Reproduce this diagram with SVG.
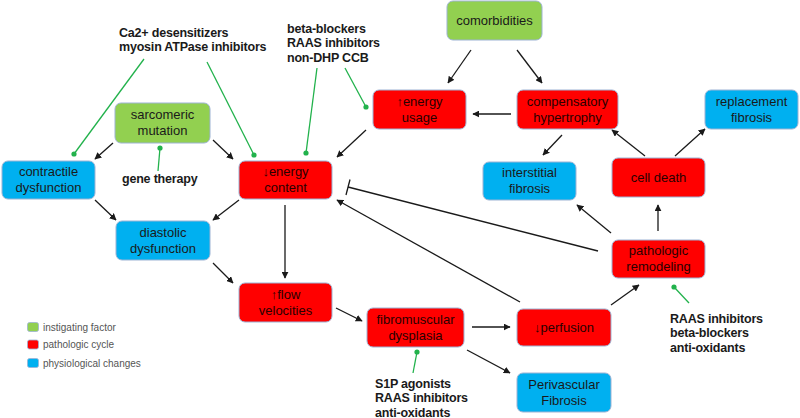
<svg xmlns="http://www.w3.org/2000/svg" width="800" height="418" viewBox="0 0 800 418">
<defs>
<marker id="ah" viewBox="0 0 10 10" refX="9" refY="5" markerWidth="7" markerHeight="7" orient="auto" markerUnits="userSpaceOnUse"><path d="M0,0 L10,5 L0,10 z" fill="#1a1a1a"/></marker>
<style>
.n rect{stroke:#9db3d4;stroke-width:1}
.g rect{fill:#92d050}
.r rect{fill:#ff0000}
.b rect{fill:#00b0f0}
.n text{font-family:"Liberation Sans",Arial,sans-serif;font-size:13px;text-anchor:middle;fill:#1a1a1a}
.r text{fill:#2a0000}
.lbl{font-family:"Liberation Sans",Arial,sans-serif;font-size:12.5px;font-weight:bold;fill:#1a1a1a;letter-spacing:-0.2px}
.leg{font-family:"Liberation Sans",Arial,sans-serif;font-size:10px;fill:#555}
.a{stroke:#1a1a1a;stroke-width:1.3;fill:none;marker-end:url(#ah)}
.i{stroke:#1a1a1a;stroke-width:1.3;fill:none}
.t{stroke:#22b24c;stroke-width:1.3;fill:none}
.d{fill:#22b24c}
</style>
</defs>
<rect width="800" height="418" fill="#fff"/>

<g id="connectors">
<line class="a" x1="471" y1="50" x2="448" y2="83"/>
<line class="a" x1="517" y1="50" x2="542" y2="83"/>
<line class="a" x1="511" y1="114" x2="473" y2="114"/>
<line class="a" x1="366" y1="130" x2="337" y2="157"/>
<line class="a" x1="562" y1="135" x2="543" y2="155"/>
<line class="a" x1="645" y1="156" x2="612" y2="130"/>
<line class="a" x1="675" y1="156" x2="705" y2="129"/>
<line class="a" x1="113" y1="143" x2="95" y2="159"/>
<line class="a" x1="213" y1="140" x2="233" y2="159"/>
<line class="a" x1="95" y1="200" x2="116" y2="220"/>
<line class="a" x1="239" y1="200" x2="213" y2="220"/>
<line class="a" x1="285" y1="205" x2="285" y2="278"/>
<line class="a" x1="213" y1="263" x2="233" y2="283"/>
<line class="a" x1="336" y1="308" x2="362" y2="321"/>
<line class="a" x1="472" y1="327" x2="510" y2="327"/>
<line class="a" x1="467" y1="350" x2="510" y2="373"/>
<line class="a" x1="611" y1="305" x2="639" y2="285"/>
<line class="a" x1="520" y1="302" x2="337" y2="200"/>
<line class="a" x1="611" y1="233" x2="577" y2="205"/>
<line class="a" x1="658" y1="231" x2="658" y2="205"/>
<line class="i" x1="598" y1="251" x2="348" y2="187"/>
<line class="i" x1="350" y1="179.5" x2="346" y2="195"/>
<!-- green therapy lines -->
<line class="t" x1="144" y1="59" x2="74" y2="154"/><circle class="d" cx="74" cy="154" r="2.6"/>
<line class="t" x1="207" y1="62" x2="254" y2="155"/><circle class="d" cx="254" cy="155" r="2.6"/>
<line class="t" x1="158" y1="171" x2="160" y2="148"/><circle class="d" cx="160" cy="148" r="2.6"/>
<line class="t" x1="317" y1="68" x2="306" y2="153"/><circle class="d" cx="306" cy="153" r="2.6"/>
<line class="t" x1="345" y1="68" x2="366" y2="107"/><circle class="d" cx="366" cy="107" r="2.6"/>
<line class="t" x1="413" y1="373" x2="417" y2="352"/><circle class="d" cx="417" cy="352" r="2.6"/>
<line class="t" x1="689" y1="303" x2="674" y2="287"/><circle class="d" cx="674" cy="287" r="2.6"/>
</g>

<g id="comorbidities" class="n g"><rect x="447" y="1" width="95" height="39" rx="6"/><text x="494.5" y="25">comorbidities</text></g>
<g id="sarcomeric" class="n g"><rect x="115" y="103" width="95" height="40" rx="6"/><text x="162.5" y="119">sarcomeric</text><text x="162.5" y="134.5">mutation</text></g>
<g id="contractile" class="n b"><rect x="2" y="161" width="93" height="38" rx="6"/><text x="48.5" y="176">contractile</text><text x="48.5" y="191.5">dysfunction</text></g>
<g id="energy-content" class="n r"><rect x="239" y="161" width="93" height="38" rx="6"/><text x="285.5" y="176">↓energy</text><text x="285.5" y="191.5">content</text></g>
<g id="energy-usage" class="n r"><rect x="373" y="90" width="93" height="39" rx="6"/><text x="419.5" y="106">↑energy</text><text x="419.5" y="121.5">usage</text></g>
<g id="compensatory" class="n r"><rect x="517" y="90" width="101" height="39" rx="6"/><text x="567.5" y="106">compensatory</text><text x="567.5" y="121.5">hypertrophy</text></g>
<g id="replacement" class="n b"><rect x="705" y="90" width="93" height="39" rx="6"/><text x="751.5" y="106">replacement</text><text x="751.5" y="121.5">fibrosis</text></g>
<g id="interstitial" class="n b"><rect x="483" y="162" width="93" height="38" rx="6"/><text x="529.5" y="177">interstitial</text><text x="529.5" y="192.5">fibrosis</text></g>
<g id="cell-death" class="n r"><rect x="612" y="158" width="93" height="39" rx="6"/><text x="658.5" y="182">cell death</text></g>
<g id="diastolic" class="n b"><rect x="116" y="221" width="94" height="39" rx="6"/><text x="163" y="237">diastolic</text><text x="163" y="252.5">dysfunction</text></g>
<g id="flow" class="n r"><rect x="239" y="283" width="93" height="39" rx="6"/><text x="285.5" y="299">↑flow</text><text x="285.5" y="314.5">velocities</text></g>
<g id="fibromuscular" class="n r"><rect x="367" y="308" width="97" height="39" rx="6"/><text x="415.5" y="324">fibromuscular</text><text x="415.5" y="339.5">dysplasia</text></g>
<g id="perfusion" class="n r"><rect x="517" y="309" width="94" height="37" rx="6"/><text x="564" y="332">↓perfusion</text></g>
<g id="perivascular" class="n b"><rect x="517" y="373" width="94" height="39" rx="6"/><text x="564" y="389">Perivascular</text><text x="564" y="404.5">Fibrosis</text></g>
<g id="remodeling" class="n r"><rect x="612" y="240" width="93" height="38" rx="6"/><text x="658.5" y="255">pathologic</text><text x="658.5" y="270.5">remodeling</text></g>

<g id="therapy-labels">
<text class="lbl" x="119" y="36.5">Ca2+ desensitizers</text>
<text class="lbl" x="119" y="50.5">myosin ATPase inhibitors</text>
<text class="lbl" x="287" y="32.5">beta-blockers</text>
<text class="lbl" x="287" y="47">RAAS inhibitors</text>
<text class="lbl" x="287" y="61.5">non-DHP CCB</text>
<text class="lbl" x="122" y="182.5">gene therapy</text>
<text class="lbl" x="375" y="387.5">S1P agonists</text>
<text class="lbl" x="375" y="402">RAAS inhibitors</text>
<text class="lbl" x="375" y="416.5">anti-oxidants</text>
<text class="lbl" x="670" y="322.5">RAAS inhibitors</text>
<text class="lbl" x="670" y="337">beta-blockers</text>
<text class="lbl" x="670" y="351.5">anti-oxidants</text>
</g>

<g id="legend">
<rect x="27.5" y="322.5" width="11" height="9" rx="2" fill="#92d050" stroke="#9db3d4" stroke-width="0.8"/>
<text class="leg" x="43" y="330.5">instigating factor</text>
<rect x="27.5" y="340" width="11" height="9" rx="2" fill="#ff0000" stroke="#9db3d4" stroke-width="0.8"/>
<text class="leg" x="43" y="348">pathologic cycle</text>
<rect x="27.5" y="358.5" width="11" height="9" rx="2" fill="#00b0f0" stroke="#9db3d4" stroke-width="0.8"/>
<text class="leg" x="43" y="366.5">physiological changes</text>
</g>
</svg>
